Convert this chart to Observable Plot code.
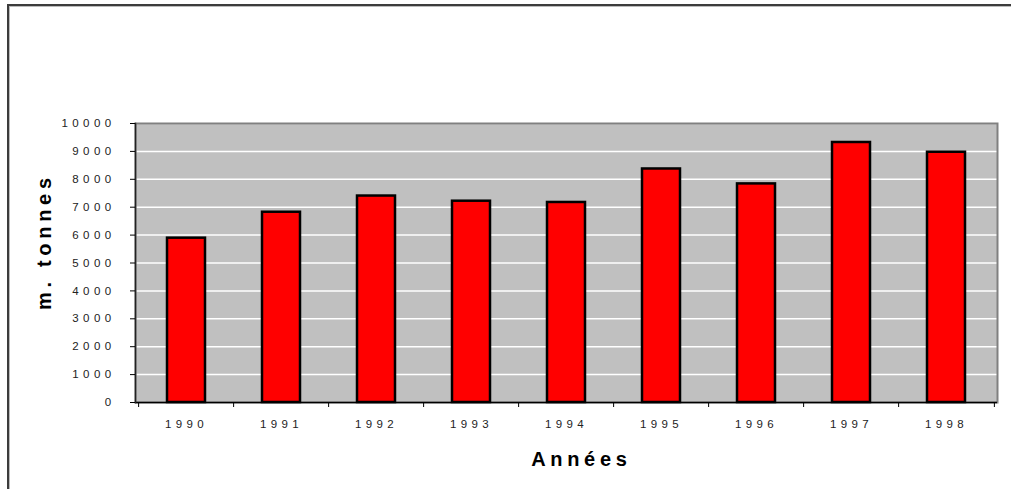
<!DOCTYPE html>
<html><head><meta charset="utf-8">
<script src="https://cdn.jsdelivr.net/npm/d3@7"></script>
<script src="https://cdn.jsdelivr.net/npm/@observablehq/plot@0.6"></script>
<style>
body{margin:0;background:#fff;}
#wrap{position:relative;width:1011px;height:489px;overflow:hidden;}
#border{position:absolute;left:7px;top:4px;width:1010px;height:500px;border-top:2px solid #3c3c3c;border-left:2px solid #3c3c3c;pointer-events:none;box-shadow:inset 1px 1px 0 #bbb;}
svg text{letter-spacing:4.4px;}
svg g[font-weight="bold"] text{letter-spacing:4.7px;}
</style>
</head><body>
<div id="wrap"><div id="border"></div></div>
<script>
const years = ["1990","1991","1992","1993","1994","1995","1996","1997","1998"];
const values = [5890, 6820, 7400, 7215, 7170, 8370, 7835, 9320, 8970];
const yTicks = [0,1000,2000,3000,4000,5000,6000,7000,8000,9000,10000];
const xTitle = "Années";
const yTitle = "m. tonnes";

const data = years.map((y, i) => ({year: y, value: values[i]}));
const W = 1011, H = 489, mL = 135, mR = 14, mT = 123, mB = 87;
const step = (W - mL - mR) / years.length;

const chart = Plot.plot({
  width: W, height: H,
  marginLeft: mL, marginRight: mR, marginTop: mT, marginBottom: mB,
  style: {fontFamily: "'Liberation Sans', Arial, sans-serif", background: "transparent", overflow: "visible"},
  x: {type: "band", domain: years, paddingInner: 0.6, paddingOuter: 0.3, label: null},
  y: {domain: [0, 10000], label: null},
  marks: [
    Plot.frame({fill: "#c0c0c0", stroke: null}),
    Plot.gridY(yTicks, {stroke: "#ffffff", strokeOpacity: 1, strokeWidth: 1.5}),
    Plot.frame({stroke: "#808080", strokeWidth: 2}),
    Plot.barY(data, {x: "year", y: "value", fill: "#ff0000", stroke: "#000", strokeWidth: 2.5}),
    Plot.ruleY([0], {stroke: "#000", strokeWidth: 1.5}),
    Plot.frame({anchor: "left", stroke: "#222", strokeWidth: 1.5}),
    Plot.axisY({ticks: yTicks, tickSize: 5, tickPadding: 15, tickFormat: d => String(d), fontSize: 11.5, fill: "#222", stroke: "#000", label: null}),
    Plot.axisX({tickSize: 0, tickPadding: 17, fontSize: 11.5, fill: "#222", label: null}),
    Plot.axisX({tickSize: 5, tickFormat: () => "", stroke: "#000", dx: -step / 2, label: null}),
    Plot.axisX({ticks: [years[years.length - 1]], tickSize: 5, tickFormat: () => "", stroke: "#000", dx: step / 2, label: null}),
    Plot.text([xTitle], {frameAnchor: "bottom", dy: 56.6, dx: 14.85, fontSize: 20, fontWeight: "bold", fill: "#000", textAnchor: "middle", lineAnchor: "middle"}),
    Plot.text([yTitle], {frameAnchor: "left", dx: -91.4, dy: -21.35, rotate: -90, fontSize: 20, fontWeight: "bold", fill: "#000", textAnchor: "middle", lineAnchor: "middle"})
  ]
});
chart.style.position = "absolute";
chart.style.left = "0";
chart.style.top = "0";
document.getElementById("wrap").prepend(chart);
</script>
</body></html>
